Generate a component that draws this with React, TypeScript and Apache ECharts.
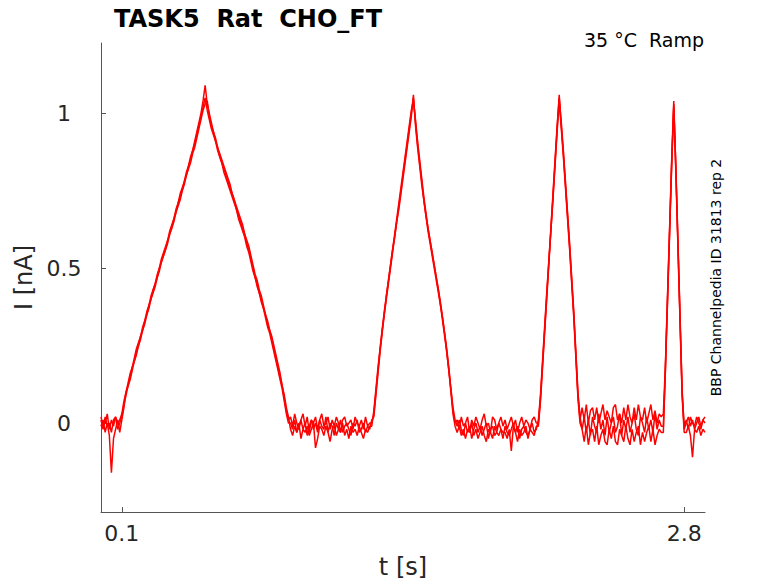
import React, { useEffect, useRef } from "react";
import * as echarts from "echarts";

// ---- axis / labels ----
const X_TICKS = [0.1, 2.8];
const Y_TICKS = [0, 0.5, 1];
const X_RANGE = [0, 2.9];
const Y_RANGE = [-0.287, 1.227];

const SAMPLE_DT = 0.01;
// start time of each segment: baseline, ramp1, baseline, ramp2, baseline, ramp3, baseline, ramp4, baseline
const SEGMENT_STARTS = [0, 0.1, 0.91, 1.3, 1.71, 2.1, 2.31, 2.7, 2.81];

// ---- trace 1 (nA) ----
const T1_BASE_A = [0.01, -0.02, 0.02, -0.01, 0.0, -0.03, 0.01, 0.02, -0.02, 0.0];
const T1_RAMP1 = [
  0.02, 0.06, 0.09, 0.12, 0.15, 0.18, 0.2, 0.23, 0.25, 0.28,
  0.3, 0.33, 0.35, 0.38, 0.4, 0.43, 0.45, 0.47, 0.5, 0.52,
  0.54, 0.56, 0.59, 0.61, 0.63, 0.66, 0.68, 0.71, 0.73, 0.75,
  0.78, 0.8, 0.83, 0.85, 0.88, 0.9, 0.93, 0.96, 0.99, 1.02,
  1.05,
  1.01, 0.98, 0.95, 0.93, 0.91, 0.89, 0.86, 0.84, 0.82, 0.8,
  0.78, 0.76, 0.74, 0.72, 0.69, 0.67, 0.65, 0.63, 0.61, 0.58,
  0.56, 0.53, 0.5, 0.47, 0.45, 0.42, 0.4, 0.37, 0.35, 0.32,
  0.3, 0.27, 0.24, 0.21, 0.18, 0.15, 0.12, 0.08, 0.04, 0.01,
];
const T1_BASE_B = [
  0.02, -0.01, 0.03, 0.0, -0.02, 0.01, 0.03, -0.01, 0.02, -0.03,
  0.01, 0.0, 0.02, -0.02, 0.01, 0.03, -0.01, 0.0, 0.02, -0.02,
  0.01, -0.01, 0.02, 0.0, -0.03, 0.01, 0.02, -0.01, 0.0, 0.01,
  -0.02, 0.02, 0.0, -0.01, 0.01, -0.02, 0.02, -0.01, 0.0,
];
const T1_RAMP2 = [
  0.0, 0.03, 0.1, 0.17, 0.24, 0.3, 0.35, 0.41, 0.46, 0.51,
  0.56, 0.6, 0.65, 0.7, 0.75, 0.8, 0.85, 0.9, 0.95, 1.0,
  1.05,
  0.97, 0.9, 0.84, 0.78, 0.72, 0.67, 0.63, 0.59, 0.55, 0.51,
  0.47, 0.43, 0.39, 0.34, 0.29, 0.24, 0.18, 0.11, 0.04, 0.0,
];
const T1_BASE_C = [
  0.01, -0.02, 0.02, -0.01, 0.0, 0.02, -0.03, 0.01, -0.01, 0.02,
  0.0, -0.02, 0.01, 0.03, -0.01, 0.0, -0.03, 0.02, 0.01, -0.02,
  0.0, 0.02, -0.01, 0.01, -0.02, 0.0, 0.02, -0.01, 0.01, -0.03,
  0.0, 0.02, -0.01, 0.01, 0.0, -0.02, 0.01, 0.02, 0.0,
];
const T1_RAMP3 = [
  0.0, 0.08, 0.19, 0.3, 0.41, 0.52, 0.62, 0.73, 0.84, 0.95, 1.06,
  0.96, 0.87, 0.77, 0.67, 0.57, 0.46, 0.35, 0.22, 0.09, 0.01,
];
const T1_BASE_D = [
  0.05, 0.01, 0.06, 0.0, 0.04, 0.05, 0.01, 0.05, 0.0, 0.03,
  0.06, 0.01, 0.04, 0.02, 0.0, 0.05, 0.06, 0.01, 0.03, 0.0,
  0.05, 0.01, 0.06, 0.02, 0.0, 0.05, 0.01, 0.06, 0.02, 0.01,
  0.05, 0.0, 0.03, 0.06, 0.01, 0.04, 0.0, 0.03, 0.02,
];
const T1_RAMP4 = [0.03, 0.19, 0.41, 0.63, 0.85, 1.04, 0.82, 0.58, 0.34, 0.1, -0.01];
const T1_BASE_E = [0.01, -0.02, 0.02, 0.0, -0.01, 0.02, 0.0, -0.02, 0.01, 0.02];

// ---- trace 2 (nA) ----
const T2_BASE_A = [-0.01, 0.01, -0.03, 0.0, -0.04, -0.16, -0.05, -0.02, 0.01, -0.03];
const T2_RAMP1 = [
  0.01, 0.05, 0.1, 0.13, 0.16, 0.18, 0.21, 0.24, 0.26, 0.28,
  0.31, 0.33, 0.36, 0.38, 0.41, 0.43, 0.45, 0.48, 0.5, 0.53,
  0.55, 0.57, 0.59, 0.62, 0.64, 0.66, 0.69, 0.71, 0.74, 0.76,
  0.78, 0.81, 0.83, 0.86, 0.88, 0.91, 0.94, 0.97, 1.0, 1.04,
  1.09,
  1.03, 1.0, 0.97, 0.94, 0.92, 0.89, 0.87, 0.85, 0.83, 0.81,
  0.79, 0.77, 0.74, 0.72, 0.7, 0.68, 0.66, 0.64, 0.61, 0.59,
  0.57, 0.54, 0.51, 0.48, 0.46, 0.43, 0.41, 0.38, 0.35, 0.33,
  0.3, 0.28, 0.25, 0.22, 0.19, 0.16, 0.12, 0.09, 0.05, 0.02,
];
const T2_BASE_B = [
  -0.02, -0.04, -0.01, -0.03, 0.0, -0.05, -0.02, -0.03, -0.01, -0.04,
  -0.02, 0.0, -0.08, -0.05, -0.01, -0.02, -0.04, -0.01, -0.03, -0.06,
  -0.02, -0.01, -0.04, -0.02, -0.03, 0.0, -0.04, -0.02, -0.05, -0.01,
  -0.03, -0.02, -0.04, -0.01, -0.03, -0.05, -0.02, -0.03, -0.01,
];
const T2_RAMP2 = [
  -0.01, 0.04, 0.11, 0.18, 0.24, 0.3, 0.36, 0.41, 0.46, 0.51,
  0.56, 0.61, 0.66, 0.71, 0.76, 0.81, 0.86, 0.91, 0.96, 1.01,
  1.04,
  0.98, 0.91, 0.85, 0.79, 0.73, 0.68, 0.63, 0.59, 0.55, 0.51,
  0.47, 0.43, 0.38, 0.34, 0.29, 0.23, 0.17, 0.1, 0.03, -0.01,
];
const T2_BASE_C = [
  -0.03, -0.01, -0.04, -0.02, -0.05, -0.02, -0.03, 0.0, -0.04, -0.02,
  -0.05, -0.03, -0.01, -0.04, -0.06, -0.02, -0.03, -0.05, -0.01, -0.03,
  -0.04, -0.02, -0.03, -0.03, -0.05, -0.02, -0.09, -0.01, -0.03, -0.06,
  -0.02, -0.04, -0.03, -0.01, -0.05, -0.02, -0.03, -0.04, -0.01,
];
const T2_RAMP3 = [
  -0.01, 0.07, 0.18, 0.29, 0.4, 0.51, 0.62, 0.72, 0.83, 0.94, 1.04,
  0.95, 0.86, 0.76, 0.66, 0.56, 0.45, 0.34, 0.21, 0.08, 0.0,
];
const T2_BASE_D = [
  -0.02, 0.02, -0.03, 0.01, -0.04, 0.02, -0.01, -0.03, 0.03, -0.02,
  0.01, -0.04, 0.02, -0.03, 0.0, 0.02, -0.03, -0.01, 0.03, -0.04,
  0.01, -0.02, 0.02, -0.03, 0.0, 0.03, -0.02, -0.04, 0.02, 0.0,
  -0.03, 0.02, -0.02, 0.01, -0.03, 0.03, -0.02, 0.01, -0.01,
];
const T2_RAMP4 = [-0.01, 0.17, 0.39, 0.61, 0.83, 1.03, 0.81, 0.57, 0.33, 0.09, -0.03];
const T2_BASE_E = [-0.03, -0.01, -0.04, -0.11, -0.02, -0.03, -0.01, -0.04, -0.02, -0.03];

// ---- trace 3 (nA) ----
const T3_BASE_A = [0.02, -0.01, 0.0, 0.03, -0.02, 0.01, -0.01, 0.02, 0.0, 0.01];
const T3_RAMP1 = [
  0.03, 0.07, 0.1, 0.12, 0.14, 0.17, 0.2, 0.22, 0.25, 0.27,
  0.3, 0.32, 0.35, 0.37, 0.4, 0.42, 0.44, 0.47, 0.49, 0.52,
  0.54, 0.56, 0.58, 0.61, 0.63, 0.65, 0.68, 0.7, 0.72, 0.75,
  0.77, 0.8, 0.82, 0.84, 0.87, 0.89, 0.92, 0.95, 0.98, 1.01,
  1.03,
  1.04, 0.99, 0.96, 0.94, 0.91, 0.88, 0.86, 0.84, 0.81, 0.79,
  0.77, 0.75, 0.73, 0.71, 0.69, 0.66, 0.64, 0.62, 0.6, 0.57,
  0.55, 0.52, 0.49, 0.47, 0.44, 0.42, 0.39, 0.37, 0.34, 0.31,
  0.29, 0.26, 0.23, 0.2, 0.17, 0.14, 0.11, 0.07, 0.03, 0.0,
];
const T3_BASE_B = [
  0.0, -0.02, 0.01, -0.03, -0.01, 0.01, -0.02, 0.0, -0.04, -0.01,
  0.01, -0.02, 0.0, -0.03, 0.01, -0.01, -0.02, 0.02, -0.03, 0.0,
  -0.01, -0.04, 0.0, -0.02, 0.01, -0.03, -0.01, 0.0, -0.02, -0.04,
  0.0, -0.01, 0.01, -0.03, -0.02, 0.0, -0.03, -0.01, -0.02,
];
const T3_RAMP2 = [
  0.01, 0.02, 0.09, 0.16, 0.23, 0.29, 0.35, 0.4, 0.45, 0.5,
  0.55, 0.6, 0.65, 0.69, 0.74, 0.79, 0.84, 0.89, 0.94, 0.99,
  1.06,
  0.96, 0.89, 0.83, 0.77, 0.72, 0.67, 0.62, 0.58, 0.54, 0.5,
  0.46, 0.42, 0.38, 0.33, 0.28, 0.23, 0.17, 0.11, 0.05, 0.01,
];
const T3_BASE_C = [
  -0.01, 0.01, -0.02, -0.04, 0.0, -0.03, -0.01, -0.05, -0.02, 0.0,
  -0.03, -0.01, -0.04, -0.02, 0.0, -0.05, -0.02, -0.01, -0.04, -0.03,
  0.0, -0.02, -0.05, -0.01, -0.03, -0.04, -0.02, 0.0, -0.03, -0.01,
  -0.05, -0.02, -0.01, -0.03, -0.04, -0.02, 0.0, -0.03, -0.02,
];
const T3_RAMP3 = [
  0.01, 0.09, 0.2, 0.31, 0.42, 0.52, 0.63, 0.74, 0.85, 0.96, 1.05,
  0.97, 0.88, 0.78, 0.68, 0.58, 0.47, 0.36, 0.23, 0.1, 0.02,
];
const T3_BASE_D = [
  -0.02, -0.06, -0.01, -0.07, -0.03, -0.02, -0.06, -0.01, -0.07, -0.04,
  -0.02, -0.06, -0.07, -0.02, -0.05, -0.01, -0.06, -0.07, -0.02, -0.04,
  -0.06, -0.01, -0.05, -0.07, -0.02, -0.06, -0.03, -0.01, -0.07, -0.03,
  -0.06, -0.03, -0.01, -0.06, -0.02, -0.07, -0.04, -0.02, -0.03,
];
const T3_RAMP4 = [-0.03, 0.18, 0.4, 0.62, 0.84, 1.02, 0.83, 0.59, 0.35, 0.11, -0.02];
const T3_BASE_E = [0.0, 0.02, -0.01, 0.01, -0.02, 0.0, 0.02, -0.01, 0.01, 0.0];

const TRACE_SEGMENTS = [
  [T1_BASE_A, T1_RAMP1, T1_BASE_B, T1_RAMP2, T1_BASE_C, T1_RAMP3, T1_BASE_D, T1_RAMP4, T1_BASE_E],
  [T2_BASE_A, T2_RAMP1, T2_BASE_B, T2_RAMP2, T2_BASE_C, T2_RAMP3, T2_BASE_D, T2_RAMP4, T2_BASE_E],
  [T3_BASE_A, T3_RAMP1, T3_BASE_B, T3_RAMP2, T3_BASE_C, T3_RAMP3, T3_BASE_D, T3_RAMP4, T3_BASE_E],
];

const TITLE = "TASK5  Rat  CHO_FT";
const CONDITION = "35 °C  Ramp";
const SOURCE = "BBP Channelpedia ID 31813 rep 2";

function buildTrace(segments: number[][]): [number, number][] {
  const pts: [number, number][] = [];
  segments.forEach((seg, k) => {
    seg.forEach((v, j) => {
      pts.push([+(SEGMENT_STARTS[k] + j * SAMPLE_DT).toFixed(3), v]);
    });
  });
  return pts;
}

const FONT = "DejaVu Sans";
const TEXT_COLOR = "#262626";
const AXIS_COLOR = "#555555";

export default function App() {
  const ref = useRef<HTMLDivElement>(null);
  useEffect(() => {
    document.body.style.margin = "0";
    if (!ref.current) return;
    const chart = echarts.init(ref.current, null, { renderer: "svg" });
    chart.setOption({
      animation: false,
      backgroundColor: "#ffffff",
      textStyle: { fontFamily: FONT },
      title: {
        text: TITLE,
        left: 109,
        top: 2,
        textStyle: { fontFamily: FONT, fontSize: 24, fontWeight: "bold", color: "#000000" },
      },
      grid: { left: 101, right: 73, top: 43, bottom: 71, containLabel: false, outerBoundsMode: "none" },
      xAxis: {
        type: "value",
        min: X_RANGE[0],
        max: X_RANGE[1],
        name: "t [s]",
        nameLocation: "middle",
        nameGap: 43,
        nameTextStyle: { fontFamily: FONT, fontSize: 24, color: TEXT_COLOR },
        axisLine: { show: true, onZero: false, lineStyle: { color: AXIS_COLOR, width: 1 } },
        axisTick: { show: true, inside: true, length: 5, customValues: X_TICKS, lineStyle: { color: AXIS_COLOR } },
        axisLabel: {
          customValues: X_TICKS,
          fontFamily: FONT,
          fontSize: 22,
          color: TEXT_COLOR,
          margin: 10,
          formatter: (v: number) => String(v),
        },
        splitLine: { show: false },
      },
      yAxis: {
        type: "value",
        min: Y_RANGE[0],
        max: Y_RANGE[1],
        name: "I [nA]",
        nameLocation: "middle",
        nameGap: 53,
        nameTextStyle: { fontFamily: FONT, fontSize: 24, color: TEXT_COLOR },
        axisLine: { show: true, onZero: false, lineStyle: { color: AXIS_COLOR, width: 1 } },
        axisTick: { show: true, inside: true, length: 5, customValues: Y_TICKS, lineStyle: { color: AXIS_COLOR } },
        axisLabel: {
          customValues: Y_TICKS,
          fontFamily: FONT,
          fontSize: 22,
          color: TEXT_COLOR,
          margin: 37,
          align: "center",
          formatter: (v: number) => String(v),
        },
        splitLine: { show: false },
      },
      graphic: [
        {
          type: "text",
          right: 74,
          top: 30,
          style: { text: CONDITION, fontFamily: FONT, fontSize: 19, fill: "#000000" },
        },
        {
          type: "text",
          x: 716,
          y: 277.5,
          rotation: Math.PI / 2,
          style: {
            text: SOURCE,
            fontFamily: FONT,
            fontSize: 14,
            fill: "#000000",
            textAlign: "center",
            textVerticalAlign: "middle",
          },
        },
      ],
      series: TRACE_SEGMENTS.map((segs, i) => ({
        type: "line",
        name: "trace " + (i + 1),
        data: buildTrace(segs),
        showSymbol: false,
        symbol: "none",
        silent: true,
        clip: true,
        lineStyle: { color: "#ff0000", width: 1.5 },
        itemStyle: { color: "#ff0000" },
      })),
    });
    return () => chart.dispose();
  }, []);
  return <div ref={ref} style={{ position: "fixed", left: 0, top: 0, width: 778, height: 583 }} />;
}
